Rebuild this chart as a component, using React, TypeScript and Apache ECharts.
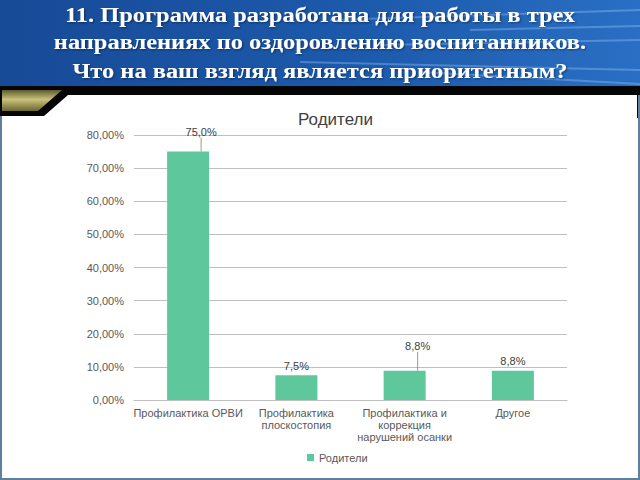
import React, { useEffect, useRef } from "react";
import * as echarts from "echarts";

const categories = [
  "Профилактика ОРВИ",
  "Профилактика\nплоскостопия",
  "Профилактика и\nкоррекция\nнарушений осанки",
  "Другое",
];
const seriesName = "Родители";
const values = [75.0, 7.5, 8.8, 8.8];
const yMax = 80;
const yInterval = 10;
const headlineLines = [
  "11. Программа разработана для работы в трех",
  "направлениях по оздоровлению воспитанников.",
  "Что на ваш взгляд является приоритетным?",
];
const movedLabels = [0, 2];

const fmtAxis = (v: number) => v.toFixed(2).replace(".", ",") + "%";
const fmtLabel = (v: number) => v.toFixed(1).replace(".", ",") + "%";

export default function App() {
  const ref = useRef<HTMLDivElement>(null);
  useEffect(() => {
    document.body.style.margin = "0";
    const chart = echarts.init(ref.current!, null, { renderer: "svg" });
    const rays = [
      [[330, 20], [640, 10]],
      [[380, 45], [640, 40]],
      [[300, 62], [640, 70]],
      [[420, 72], [640, 84]],
      [[470, 30], [640, 26]],
    ];
    const lineY = [14, 41, 70];
    chart.setOption({
      animation: false,
      backgroundColor: "#ffffff",
      graphic: [
        {
          type: "rect",
          z: -20,
          shape: { x: 0, y: 0, width: 640, height: 90 },
          style: {
            fill: new echarts.graphic.LinearGradient(0, 0, 1, 0, [
              { offset: 0, color: "#174a97" },
              { offset: 0.6, color: "#1d5bad" },
              { offset: 1, color: "#2a6fc4" },
            ]),
          },
        },
        ...rays.map((r) => ({
          type: "line",
          z: -19,
          shape: { x1: r[0][0], y1: r[0][1], x2: r[1][0], y2: r[1][1] },
          style: { stroke: "rgba(160,205,255,0.35)", lineWidth: 2 },
        })),
        {
          type: "rect",
          z: -18,
          shape: { x: 0, y: 86, width: 640, height: 32 },
          style: { fill: "#050505" },
        },
        {
          type: "polygon",
          z: -17,
          shape: { points: [[2, 90], [62, 90], [38, 111], [2, 111]] },
          style: {
            fill: new echarts.graphic.LinearGradient(0, 0, 0, 1, [
              { offset: 0, color: "#5d5a2a" },
              { offset: 0.45, color: "#c9c27a" },
              { offset: 1, color: "#6a6630" },
            ]),
          },
        },
        {
          type: "polygon",
          z: -16,
          shape: { points: [[68, 95], [637, 95], [637, 477], [2, 477], [2, 116], [44, 116]] },
          style: { fill: "#ffffff" },
        },
        {
          type: "polyline",
          z: -15,
          shape: { points: [[1, 116], [1, 479], [639, 479], [639, 95]] },
          style: { stroke: "#5f7f9e", lineWidth: 2, fill: "none" },
        },
        ...headlineLines.map((t, i) => ({
          type: "text",
          z: 10,
          x: 320,
          y: lineY[i],
          scaleX: 1.11,
          style: {
            text: t,
            fill: "#ffffff",
            fontFamily: "Liberation Serif",
            fontWeight: "bold",
            fontSize: 22,
            align: "center",
            verticalAlign: "middle",
            textShadowColor: "rgba(0,0,0,0.45)",
            textShadowBlur: 2,
            textShadowOffsetX: 1,
            textShadowOffsetY: 1,
          },
        })),
      ],
      title: [
        {
          text: seriesName,
          left: 293,
          top: 106,
          textStyle: {
            fontFamily: "Liberation Sans",
            fontWeight: "normal",
            fontSize: 17,
            color: "#404040",
          },
        },
      ],
      legend: {
        data: [seriesName],
        top: 447,
        left: 302,
        icon: "rect",
        itemWidth: 7,
        itemHeight: 7,
        itemGap: 4,
        textStyle: { fontFamily: "Liberation Sans", fontSize: 11, color: "#595959" },
      },
      grid: { left: 134, right: 73, top: 135, bottom: 80, containLabel: false },
      xAxis: {
        type: "category",
        data: categories,
        axisTick: { show: false },
        axisLine: { lineStyle: { color: "#bfbfbf" } },
        axisLabel: {
          interval: 0,
          margin: 7,
          fontFamily: "Liberation Sans",
          fontSize: 11,
          lineHeight: 12,
          color: "#595959",
        },
      },
      yAxis: {
        type: "value",
        min: 0,
        max: yMax,
        interval: yInterval,
        axisLine: { show: false },
        axisTick: { show: false },
        splitLine: { lineStyle: { color: "#bfbfbf" } },
        axisLabel: {
          formatter: fmtAxis,
          margin: 10,
          fontFamily: "Liberation Sans",
          fontSize: 11,
          color: "#595959",
        },
      },
      series: [
        {
          type: "bar",
          name: seriesName,
          data: values.map((v, i) => ({
            value: v,
            labelLine: { show: movedLabels.includes(i) },
          })),
          barWidth: 42,
          itemStyle: { color: "#5ec79b" },
          label: {
            show: true,
            position: "top",
            distance: 4,
            formatter: (p: any) => fmtLabel(p.value),
            fontFamily: "Liberation Sans",
            fontSize: 11,
            color: "#404040",
          },
          labelLine: { show: true, lineStyle: { color: "#7f7f7f", width: 0.8 } },
          labelLayout: (p: any) => {
            if (p.dataIndex === 0) return { dx: 13, dy: -10 };
            if (p.dataIndex === 2) return { dx: 13, dy: -15 };
            return {};
          },
        },
      ],
    });
    return () => chart.dispose();
  }, []);
  return (
    <div
      ref={ref}
      style={{ position: "absolute", left: 0, top: 0, width: 640, height: 480 }}
    />
  );
}
